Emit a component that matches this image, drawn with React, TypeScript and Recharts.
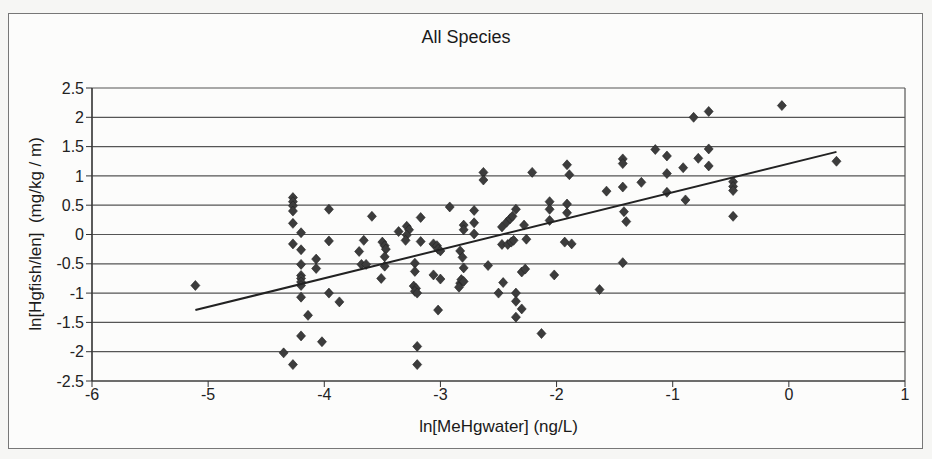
import { CartesianGrid, Scatter, ScatterChart, XAxis, YAxis } from "recharts";

// ln[MeHgwater] (ng/L) for each fish sample
const meHgWater = [
    -5.11,
    -4.27, -4.27, -4.27, -4.27, -4.27, -4.27, -4.27,
    -4.2, -4.2, -4.2, -4.2, -4.2, -4.2, -4.2, -4.2, -4.2,
    -4.35, -4.14, -4.02, -4.07, -4.07, -3.96, -3.96, -3.96, -3.87,
    -3.7, -3.66, -3.59, -3.68, -3.64,
    -3.5, -3.48, -3.47, -3.48, -3.48, -3.51,
    -3.36, -3.29, -3.27, -3.29, -3.3,
    -3.17, -3.17, -3.22, -3.22, -3.23, -3.21, -3.22, -3.2, -3.2, -3.2,
    -2.92, -3.06, -3.03, -3.02, -3.0, -3.06, -3.0, -3.02,
    -2.8, -2.8, -2.71, -2.71, -2.71, -2.83, -2.81, -2.8,
    -2.83, -2.82, -2.84, -2.8, -2.63, -2.63, -2.59,
    -2.47, -2.43, -2.4, -2.38, -2.35, -2.47, -2.42, -2.39, -2.37,
    -2.28, -2.26, -2.3, -2.27, -2.46, -2.5, -2.35, -2.35, -2.3, -2.35,
    -2.21, -2.13, -2.06, -2.06, -2.06, -2.02,
    -1.91, -1.89, -1.91, -1.91, -1.93, -1.87,
    -1.63, -1.57, -1.43, -1.43, -1.43, -1.42, -1.4, -1.43, -1.27, -1.15,
    -1.05, -1.05, -1.05, -0.91, -0.89, -0.78, -0.69, -0.69, -0.82, -0.69,
    -0.06, -0.48, -0.48, -0.48, -0.48, 0.41,
];

// ln[Hgfish/len] (mg/kg / m)
const hgFish = [
    -0.87,
    0.63, 0.56, 0.49, 0.4, 0.19, -0.16, -2.22,
    0.03, -0.26, -0.51, -0.7, -0.75, -0.81, -0.87, -1.07, -1.73,
    -2.02, -1.38, -1.83, -0.42, -0.58, 0.43, -0.11, -1.0, -1.15,
    -0.29, -0.1, 0.31, -0.51, -0.51,
    -0.13, -0.19, -0.25, -0.38, -0.54, -0.75,
    0.05, 0.14, 0.08, -0.01, -0.1,
    0.29, -0.12, -0.49, -0.63, -0.88, -0.92, -0.97, -1.0, -1.91, -2.22,
    0.47, -0.16, -0.19, -0.25, -0.28, -0.69, -0.76, -1.29,
    0.16, 0.08, 0.41, 0.2, 0.01, -0.28, -0.39, -0.57,
    -0.83, -0.77, -0.9, -0.8, 1.06, 0.93, -0.53,
    0.13, 0.21, 0.27, 0.31, 0.43, -0.17, -0.17, -0.13, -0.1,
    0.16, -0.08, -0.64, -0.59, -0.82, -1.0, -1.0, -1.14, -1.27, -1.41,
    1.06, -1.69, 0.56, 0.43, 0.24, -0.69,
    1.19, 1.02, 0.52, 0.37, -0.13, -0.16,
    -0.94, 0.74, 1.29, 1.21, 0.81, 0.39, 0.22, -0.48, 0.89, 1.45,
    1.34, 1.04, 0.72, 1.14, 0.59, 1.3, 1.46, 1.17, 2.0, 2.1,
    2.2, 0.9, 0.82, 0.75, 0.31, 1.25,
];

// linear fit drawn across the data range
const trendX = [-5.11, 0.41];
const trendY = [-1.29, 1.41];

const xTicks = [-6, -5, -4, -3, -2, -1, 0, 1];
const yTicks = [-2.5, -2, -1.5, -1, -0.5, 0, 0.5, 1, 1.5, 2, 2.5];

const font = '"Liberation Sans Narrow", "Liberation Sans", Arial, sans-serif';

const points = meHgWater.map((x, i) => ({ x, y: hgFish[i] }));
const trend = trendX.map((x, i) => ({ x, y: trendY[i] }));

const Diamond = (props: any) => {
    const { cx, cy } = props;
    if (cx == null || cy == null) return <g />;
    return (
        <polygon
            points={`${cx},${cy - 5} ${cx + 4.5},${cy} ${cx},${cy + 5} ${cx - 4.5},${cy}`}
            fill="#3c3c3c"
            stroke="#222"
            strokeWidth={0.6}
        />
    );
};

const NoDot = () => <g />;

export default function App() {
    return (
        <div style={{ position: "absolute", left: 0, top: 0, width: 932, height: 459, background: "#f6f6f4", fontFamily: font }}>
            <div style={{ position: "absolute", left: 8, top: 13, width: 913, height: 434, border: "1px solid #777", background: "#fcfcfb" }} />
            <div style={{ position: "absolute", left: 0, top: 27, width: 932, textAlign: "center", fontSize: 18, color: "#1a1a1a" }}>
                All Species
            </div>
            <div
                style={{
                    position: "absolute",
                    left: 36,
                    top: 234,
                    transform: "translate(-50%, -50%) rotate(-90deg)",
                    whiteSpace: "nowrap",
                    fontSize: 17,
                    color: "#1a1a1a",
                }}
            >
                ln[Hgfish/len]&nbsp;&nbsp;(mg/kg / m)
            </div>
            <div style={{ position: "absolute", left: 92, top: 417, width: 813, textAlign: "center", fontSize: 17, color: "#1a1a1a" }}>
                ln[MeHgwater] (ng/L)
            </div>
            <div style={{ position: "absolute", left: 0, top: 0 }}>
                <ScatterChart width={932} height={459} margin={{ top: 88, right: 27, bottom: 48, left: 40 }}>
                    <CartesianGrid
                        stroke="#555"
                        strokeWidth={1.2}
                        verticalCoordinatesGenerator={({ offset }: any) => [offset.left, offset.left + offset.width]}
                    />
                    <XAxis
                        type="number"
                        dataKey="x"
                        domain={[-6, 1]}
                        ticks={xTicks}
                        interval={0}
                        height={30}
                        axisLine={{ stroke: "#333", strokeWidth: 1.2 }}
                        tickLine={{ stroke: "#333" }}
                        tickSize={6}
                        tick={{ fill: "#222", fontSize: 16, fontFamily: font }}
                    />
                    <YAxis
                        type="number"
                        dataKey="y"
                        domain={[-2.5, 2.5]}
                        ticks={yTicks}
                        interval={0}
                        width={52}
                        axisLine={{ stroke: "#333", strokeWidth: 1.2 }}
                        tickLine={{ stroke: "#333" }}
                        tickSize={6}
                        tick={{ fill: "#222", fontSize: 16, fontFamily: font }}
                    />
                    <Scatter data={points} shape={Diamond} isAnimationActive={false} />
                    <Scatter
                        data={trend}
                        line={{ stroke: "#222", strokeWidth: 2 }}
                        shape={NoDot}
                        isAnimationActive={false}
                    />
                </ScatterChart>
            </div>
        </div>
    );
}
